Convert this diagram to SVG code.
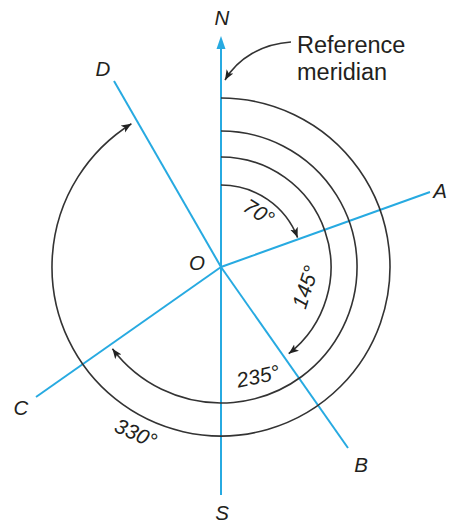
<svg xmlns="http://www.w3.org/2000/svg" width="449" height="523" viewBox="0 0 449 523">
<style>
.ax{stroke:#27aae1;stroke-width:2;fill:none;stroke-linecap:butt}
.arc{stroke:#333;stroke-width:1.6;fill:none}
.lbl{font-family:"Liberation Sans",Arial,sans-serif;font-style:italic;font-size:20.5px;fill:#231f20;text-anchor:middle}
.deg{font-family:"Liberation Sans",Arial,sans-serif;font-style:italic;font-size:21px;fill:#231f20;text-anchor:middle}
.ref{font-family:"Liberation Sans",Arial,sans-serif;font-size:23.5px;fill:#231f20}
</style>
<defs>
<marker id="ah" markerUnits="userSpaceOnUse" markerWidth="12" markerHeight="10" refX="10" refY="4" orient="auto">
<path d="M0,0 L10,4 L0,8 L2.5,4 Z" fill="#222"/>
</marker>
</defs>
<g id="connectors">
<line class="ax" x1="221" y1="46" x2="221" y2="495"/>
<path d="M221,36 L225.5,49 L216.5,49 Z" fill="#27aae1"/>
<line class="ax" x1="221" y1="267" x2="430" y2="192"/>
<line class="ax" x1="221" y1="267" x2="348" y2="448"/>
<line class="ax" x1="221" y1="267" x2="36" y2="397"/>
<line class="ax" x1="221" y1="267" x2="114" y2="81"/>
<path class="arc" d="M221,185 A82,82 0 0 1 297.6,237.6" marker-end="url(#ah)"/>
<path class="arc" d="M221,157 A110,110 0 0 1 288.7,353.7" marker-end="url(#ah)"/>
<path class="arc" d="M221,131 A136,136 0 1 1 112.4,348.8" marker-end="url(#ah)"/>
<path class="arc" d="M221,98 A169,169 0 1 1 131.4,123.7" marker-end="url(#ah)"/>
<path class="arc" d="M291,42 C262,44 238,58 225,80" marker-end="url(#ah)"/>
</g>
<g id="N"><text class="lbl" x="222" y="25">N</text></g>
<g id="S"><text class="lbl" x="222" y="520">S</text></g>
<g id="O"><text class="lbl" x="197" y="270">O</text></g>
<g id="A"><text class="lbl" x="447" y="198" style="text-anchor:end">A</text></g>
<g id="B"><text class="lbl" x="361" y="472">B</text></g>
<g id="C"><text class="lbl" x="21" y="415">C</text></g>
<g id="D"><text class="lbl" x="103" y="76">D</text></g>
<g id="ref-label"><text class="ref" x="297" y="53">Reference</text><text class="ref" x="297" y="80">meridian</text></g>
<g id="deg70"><text class="deg" transform="translate(259,212) rotate(32)" x="0" y="7.5">70°</text></g>
<g id="deg145"><text class="deg" transform="translate(305,287) rotate(-72)" x="0" y="7.5">145°</text></g>
<g id="deg235"><text class="deg" transform="translate(258,376) rotate(-12)" x="0" y="7.5">235°</text></g>
<g id="deg330"><text class="deg" transform="translate(136,433) rotate(24)" x="0" y="7.5">330°</text></g>
</svg>
